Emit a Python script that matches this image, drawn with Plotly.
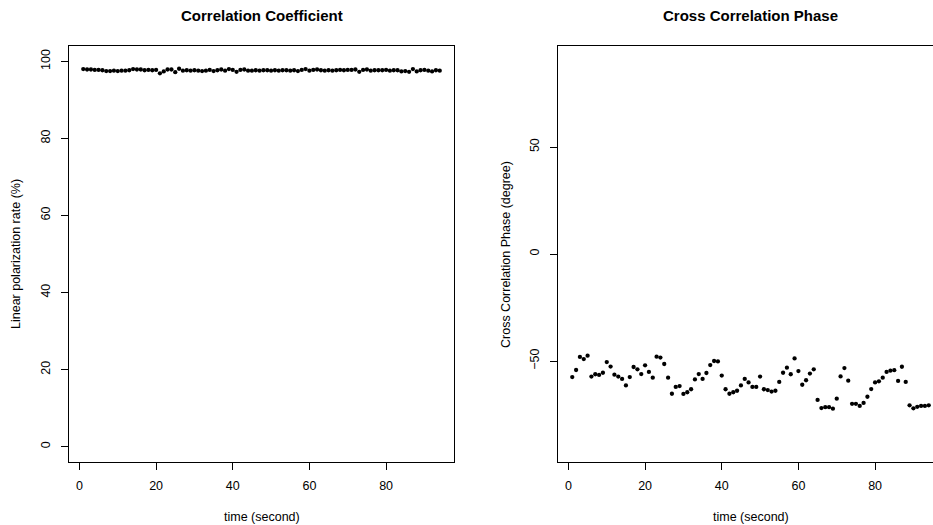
import plotly.graph_objects as go

# time axis (seconds)
time_s = list(range(1, 95))

# linear polarization rate (%)
polarization_rate = [
    98.0, 97.9, 97.9, 97.8, 97.8, 97.7, 97.5, 97.5, 97.6, 97.5,
    97.6, 97.6, 97.7, 98.0, 97.9, 97.9, 97.7, 97.8, 97.7, 97.8,
    96.9, 97.4, 97.9, 97.9, 97.2, 98.1, 97.6, 97.7, 97.6, 97.7,
    97.6, 97.5, 97.6, 97.8, 97.5, 97.7, 97.9, 97.6, 98.0, 97.8,
    97.3, 97.8, 97.9, 97.6, 97.6, 97.7, 97.6, 97.7, 97.7, 97.6,
    97.7, 97.6, 97.7, 97.7, 97.6, 97.7, 97.5, 97.8, 98.0, 97.6,
    97.8, 97.9, 97.7, 97.6, 97.7, 97.6, 97.7, 97.8, 97.7, 97.8,
    97.8, 97.9, 97.3, 97.8, 97.9, 97.6, 97.7, 97.7, 97.7, 97.8,
    97.6, 97.7, 97.7, 97.4, 97.5, 97.3, 98.0, 97.4, 97.7, 97.8,
    97.6, 97.4, 97.7, 97.6,
]

# cross correlation phase (degree)
phase_deg = [
    -57.5, -54.2, -48.1, -49.1, -47.5, -57.3, -56.2, -56.5, -55.5, -50.5,
    -52.6, -56.4, -57.3, -58.4, -61.4, -57.5, -52.8, -53.9, -56.1, -52.0,
    -55.1, -57.8, -48.0, -48.4, -51.4, -57.8, -65.3, -62.1, -61.7, -65.4,
    -64.6, -63.2, -58.6, -56.1, -58.4, -55.6, -51.9, -50.0, -50.2, -56.8,
    -63.2, -65.3, -64.6, -63.9, -61.4, -58.4, -60.0, -62.1, -62.1, -57.3,
    -63.2, -63.6, -64.3, -63.9, -59.8, -55.5, -53.1, -56.2, -48.8, -54.7,
    -61.1, -59.0, -55.9, -53.9, -68.2, -72.0, -71.6, -71.6, -72.3, -67.6,
    -57.2, -53.3, -59.2, -70.0, -70.0, -71.0, -69.6, -66.7, -63.1, -60.0,
    -59.5, -57.8, -55.1, -54.5, -54.3, -59.3, -52.7, -59.8, -70.7, -72.1,
    -71.4, -71.0, -71.0, -70.7,
]

x_ticks = [0, 20, 40, 60, 80]
rate_ticks = [0, 20, 40, 60, 80, 100]
rate_limits = [0, 100]
phase_ticks = [-50, 0, 50]
phase_limits = [-90, 90]

W, H = 933, 525
FONT = "Liberation Sans, Arial, Helvetica, sans-serif"


def padded(lo, hi, frac=0.04):
    d = (hi - lo) * frac
    return [lo - d, hi + d]


# panel boxes in pixels (left, right, top, bottom)
left_box = (69, 454, 46, 462)
right_left_px = 558
x_range = padded(min(time_s), max(time_s))
px_per_unit = (left_box[1] - left_box[0]) / (x_range[1] - x_range[0])
# right panel runs off the page edge: keep the same time scale
x_range_right = [x_range[0], x_range[0] + (W - right_left_px) / px_per_unit]

ydom = [1 - left_box[3] / H, 1 - left_box[2] / H]

fig = go.Figure()
fig.add_trace(go.Scatter(
    x=time_s, y=polarization_rate, mode="markers",
    marker=dict(color="black", size=4.3), xaxis="x", yaxis="y",
    showlegend=False, hoverinfo="skip",
))
fig.add_trace(go.Scatter(
    x=time_s, y=phase_deg, mode="markers",
    marker=dict(color="black", size=4.3), xaxis="x2", yaxis="y2",
    showlegend=False, hoverinfo="skip",
))

axis_common = dict(
    showgrid=False, zeroline=False, showline=True, linecolor="black",
    linewidth=1, ticks="outside", ticklen=7, tickcolor="black", tickwidth=1,
    tickfont=dict(family=FONT, size=12.5, color="black"), automargin=False,
)

fig.update_layout(
    width=W, height=H,
    margin=dict(l=0, r=0, t=0, b=0),
    paper_bgcolor="white", plot_bgcolor="white",
    xaxis=dict(domain=[left_box[0] / W, left_box[1] / W], range=x_range,
               tickvals=x_ticks, mirror=True, anchor="y",
               ticklabelstandoff=5, **axis_common),
    yaxis=dict(domain=ydom, range=padded(*rate_limits), tickvals=rate_ticks,
               mirror=True, anchor="x", tickangle=-90,
               ticklabelstandoff=6, **axis_common),
    xaxis2=dict(domain=[right_left_px / W, 1], range=x_range_right,
                tickvals=x_ticks, mirror=True, anchor="y2",
                ticklabelstandoff=5, **axis_common),
    yaxis2=dict(domain=ydom, range=padded(*phase_limits), tickvals=phase_ticks,
                mirror=False, anchor="x2", tickangle=-90,
                ticklabelstandoff=6, **axis_common),
)

ann_font = dict(family=FONT, size=12.5, color="black")
title_font = dict(family=FONT, size=15, color="black")
right_center = (right_left_px + right_left_px + (left_box[1] - left_box[0])) / 2
annotations = [
    dict(text="<b>Correlation Coefficient</b>", x=(left_box[0] + left_box[1]) / 2 / W,
         y=1 - 16 / H, font=title_font),
    dict(text="<b>Cross Correlation Phase</b>", x=right_center / W,
         y=1 - 16 / H, font=title_font),
    dict(text="time (second)", x=(left_box[0] + left_box[1]) / 2 / W,
         y=1 - 517 / H, font=ann_font),
    dict(text="time (second)", x=right_center / W, y=1 - 517 / H, font=ann_font),
    dict(text="Linear polarization rate (%)", x=16 / W,
         y=(ydom[0] + ydom[1]) / 2, textangle=-90, font=ann_font),
    dict(text="Cross Correlation Phase (degree)", x=506 / W,
         y=(ydom[0] + ydom[1]) / 2, textangle=-90, font=ann_font),
]
for a in annotations:
    fig.add_annotation(xref="paper", yref="paper", showarrow=False,
                       xanchor="center", yanchor="middle", **a)

fig.write_html("out.html")
